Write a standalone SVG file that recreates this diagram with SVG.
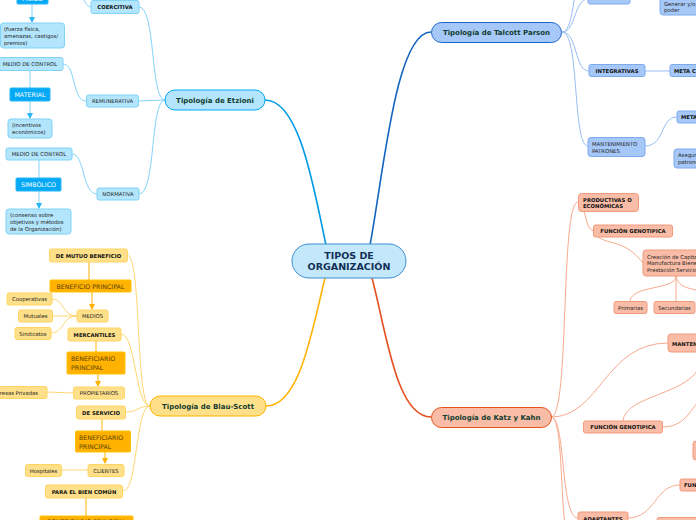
<svg xmlns="http://www.w3.org/2000/svg" width="696" height="520" viewBox="0 0 696 520">
<style>
text{font-family:"DejaVu Sans","Verdana",sans-serif;text-anchor:middle}
.l{font-size:5.3px;fill:#222}
.b{font-size:5.3px;font-weight:bold;fill:#111}
.m{font-size:7px;font-weight:bold;fill:#123c30}
.w{font-size:6.3px;fill:#fff}
.o{font-size:6.3px;fill:#5a3b00}
.ec{fill:#b3e5fc;stroke:#7fd3f7;stroke-width:1}
.eb{fill:#03a9f4;stroke:#29b6f6;stroke-width:1}
.yc{fill:#ffe08a;stroke:#ffd460;stroke-width:1}
.yb{fill:#ffb300;stroke:#ffc107;stroke-width:1}
.pc{fill:#a6c8f8;stroke:#7eaaf0;stroke-width:1}
.kc{fill:#f9bca6;stroke:#f29a7c;stroke-width:1}
.cl{fill:none;stroke-width:1}
.mc{fill:none;stroke-width:1.6}
.ce{stroke:#81d4fa}
.cy{stroke:#ffd770}
.cp{stroke:#97bdf3}
.ck{stroke:#f9a98e}
</style>
<defs>
<marker id="ao" markerWidth="6" markerHeight="6" refX="5" refY="3" orient="auto" viewBox="0 0 6 6"><path d="M0,0 L6,3 L0,6 Z" fill="#ffb300"/></marker>
<marker id="ae" markerWidth="6" markerHeight="6" refX="5" refY="3" orient="auto" viewBox="0 0 6 6"><path d="M0,0 L6,3 L0,6 Z" fill="#29b6f6"/></marker>
</defs>

<g id="connectors">
<path class="mc" stroke="#039be5" d="M326,245 C314,190 300,100 265,100"/>
<path class="mc" stroke="#1565c0" d="M370,245 C384,170 396,32 431,32"/>
<path class="mc" stroke="#ffb300" d="M325,278 C312,330 300,406 266,406"/>
<path class="mc" stroke="#e6501e" d="M372,278 C386,330 396,417 431,417"/>

<path class="cl ce" d="M165,100 C150,100 156,7 139,7"/>
<path class="cl ce" d="M165,100 L138,101"/>
<path class="cl ce" d="M165,100 C150,100 156,194 139,194"/>
<path class="cl ce" d="M92,7 C85,7 85,0 80,-8"/>
<path class="cl ce" d="M63,64 C76,64 72,101 86,101"/>
<path class="cl ce" d="M72,154 C85,154 82,194 97,194"/>
<path class="cl ce" d="M32,4 L32,22" marker-end="url(#ae)"/>
<path class="cl ce" d="M30,70 L30,88"/>
<path class="cl ce" d="M30,101 L30,118" marker-end="url(#ae)"/>
<path class="cl ce" d="M39,160 L39,178"/>
<path class="cl ce" d="M39,191 L39,208" marker-end="url(#ae)"/>

<path class="cl cy" d="M150,406 C135,406 142,255 127,255"/>
<path class="cl cy" d="M150,406 C135,406 136,334 121,334"/>
<path class="cl cy" d="M150,406 C138,406 138,412 126,412"/>
<path class="cl cy" d="M150,406 C135,406 138,491 123,491"/>
<path class="cl" stroke="#ffb300" d="M89,262 L89,280"/>
<path class="cl" stroke="#ffb300" d="M92,292 L92,309" marker-end="url(#ao)"/>
<path class="cl cy" d="M77,316 C62,316 64,299 52,299"/>
<path class="cl cy" d="M77,316 L52,316"/>
<path class="cl cy" d="M77,316 C62,316 64,333 51,333"/>
<path class="cl" stroke="#ffb300" d="M96,341 L96,352"/>
<path class="cl" stroke="#ffb300" d="M98,374 L98,386" marker-end="url(#ao)"/>
<path class="cl cy" d="M47,392 L73,393"/>
<path class="cl" stroke="#ffb300" d="M102,419 L102,431"/>
<path class="cl" stroke="#ffb300" d="M105,452 L105,463" marker-end="url(#ao)"/>
<path class="cl cy" d="M62,470 L88,470"/>
<path class="cl" stroke="#ffb300" d="M86,498 L86,516"/>

<path class="cl cp" d="M562,32 C576,32 574,-1 588,-1"/>
<path class="cl cp" d="M562,32 C576,32 572,-30 586,-30"/>
<path class="cl cp" d="M562,32 C578,32 574,71 589,71"/>
<path class="cl cp" d="M562,32 C580,32 572,146 588,146"/>
<path class="cl cp" stroke-width="1.5" d="M645,71 L670,71"/>
<path class="cl cp" d="M645,146 C665,146 660,117 677,117"/>

<path class="cl ck" d="M551,417 C570,417 560,202 578,202"/>
<path class="cl ck" d="M551,417 C600,417 605,343 668,343"/>
<path class="cl ck" d="M551,417 C566,417 560,518 578,518"/>
<path class="cl ck" d="M551,417 C563,417 560,500 566,530"/>
<path class="cl ck" d="M584,211 C587,222 588,230 594,231"/>
<path class="cl ck" d="M598,237 C610,245 625,240 643,263"/>
<path class="cl ck" d="M676,276 C676,290 632,285 630,301"/>
<path class="cl ck" d="M676,276 L676,301"/>
<path class="cl ck" d="M676,276 C678,290 696,288 700,292"/>
<path class="cl ck" d="M623,421 C625,395 690,395 700,365"/>
<path class="cl ck" d="M662,427 C685,427 690,410 700,400"/>
<path class="cl ck" d="M628,518 C655,518 655,485 680,485"/>
</g>

<g id="center"><rect x="292" y="244" width="114" height="34" rx="17" fill="#c4e8fb" stroke="#3c8fd2" stroke-width="1"/><text x="349" y="259" style="font-size:9.5px;font-weight:bold;fill:#132f55">TIPOS DE</text><text x="349" y="270" style="font-size:9.5px;font-weight:bold;fill:#132f55">ORGANIZACIÓN</text></g>

<g id="etzioni"><rect x="165" y="90" width="100" height="20" rx="10" fill="#b3e5fc" stroke="#03a9f4"/><text class="m" x="215" y="102.5">Tipología de Etzioni</text></g>
<g id="coercitiva"><rect class="ec" x="91" y="0.5" width="48" height="13" rx="2"/><text class="b" x="115" y="9">COERCITIVA</text></g>
<g id="fisico"><rect class="eb" x="17" y="-8" width="31" height="12" rx="1"/><text class="w" x="32.5" y="1">FÍSICO</text></g>
<g id="fuerza"><rect class="ec" x="0.5" y="23" width="64" height="25" rx="3"/><text class="l" x="4" y="31" style="text-anchor:start">(fuerza física,</text><text class="l" x="4" y="38" style="text-anchor:start">amenazas, castigos/</text><text class="l" x="4" y="45" style="text-anchor:start">premios)</text></g>
<g id="medio1"><rect class="ec" x="-2" y="57.5" width="65" height="13" rx="2"/><text class="l" x="30" y="66">MEDIO DE CONTROL</text></g>
<g id="material"><rect class="eb" x="10" y="88" width="40" height="13" rx="1"/><text class="w" x="30" y="97">MATERIAL</text></g>
<g id="incentivos"><rect class="ec" x="8" y="119" width="44" height="19" rx="3"/><text class="l" x="12" y="127" style="text-anchor:start">(incentivos</text><text class="l" x="12" y="134" style="text-anchor:start">económicos)</text></g>
<g id="remunerativa"><rect class="ec" x="86.5" y="95" width="52" height="12" rx="2"/><text class="l" x="112.5" y="103">REMUNERATIVA</text></g>
<g id="medio2"><rect class="ec" x="6" y="148" width="66" height="12" rx="2"/><text class="l" x="39" y="156">MEDIO DE CONTROL</text></g>
<g id="simbolico"><rect class="eb" x="16" y="178" width="45" height="13" rx="1"/><text class="w" x="38.5" y="187">SIMBÓLICO</text></g>
<g id="consenso"><rect class="ec" x="6" y="209" width="65" height="25" rx="3"/><text class="l" x="10" y="217" style="text-anchor:start">(consenso sobre</text><text class="l" x="10" y="224" style="text-anchor:start">objetivos y métodos</text><text class="l" x="10" y="231" style="text-anchor:start">de la Organización)</text></g>
<g id="normativa"><rect class="ec" x="97" y="188" width="42" height="12" rx="2"/><text class="l" x="118" y="196">NORMATIVA</text></g>

<g id="blau"><rect x="150" y="396" width="116" height="20" rx="10" fill="#ffe08a" stroke="#ffb300"/><text class="m" x="208" y="408.5">Tipología de Blau-Scott</text></g>
<g id="mutuo"><rect class="yc" x="49.5" y="249" width="78" height="13" rx="2"/><text class="b" x="88.5" y="257.5">DE MUTUO BENEFICIO</text></g>
<g id="bp1"><rect class="yb" x="50" y="280" width="81" height="12" rx="1"/><text class="o" x="90.5" y="288.5">BENEFICIO PRINCIPAL</text></g>
<g id="medios"><rect class="yc" x="77" y="310" width="31" height="12" rx="2"/><text class="l" x="92.5" y="318">MEDIOS</text></g>
<g id="coop"><rect class="yc" x="7" y="293" width="45" height="12" rx="2"/><text class="l" x="29.5" y="301">Cooperativas</text></g>
<g id="mutuales"><rect class="yc" x="18.5" y="310" width="34" height="12" rx="2"/><text class="l" x="35.5" y="318">Mutuales</text></g>
<g id="sindicatos"><rect class="yc" x="15" y="327.5" width="36" height="12" rx="2"/><text class="l" x="33" y="335.5">Sindicatos</text></g>
<g id="mercantiles"><rect class="yc" x="68" y="328" width="53" height="13" rx="2"/><text class="b" x="94.5" y="336.5">MERCANTILES</text></g>
<g id="bp2"><rect class="yb" x="67" y="352" width="58" height="22" rx="1"/><text class="o" x="71" y="361" style="text-anchor:start">BENEFICIARIO</text><text class="o" x="71" y="370" style="text-anchor:start">PRINCIPAL</text></g>
<g id="propietarios"><rect class="yc" x="73.5" y="387" width="51" height="12" rx="2"/><text class="l" x="99" y="395">PROPIETARIOS</text></g>
<g id="empresas"><rect class="yc" x="-20" y="386.5" width="67" height="12" rx="2"/><text class="l" x="13" y="394.5">Empresas Privadas</text></g>
<g id="servicio"><rect class="yc" x="76.5" y="406" width="49" height="13" rx="2"/><text class="b" x="101" y="414.5">DE SERVICIO</text></g>
<g id="bp3"><rect class="yb" x="75.5" y="431" width="55" height="21" rx="1"/><text class="o" x="79" y="440" style="text-anchor:start">BENEFICIARIO</text><text class="o" x="79" y="449" style="text-anchor:start">PRINCIPAL</text></g>
<g id="clientes"><rect class="yc" x="88" y="464.5" width="36" height="12" rx="2"/><text class="l" x="106" y="472.5">CLIENTES</text></g>
<g id="hospitales"><rect class="yc" x="25.5" y="464.5" width="36" height="12" rx="2"/><text class="l" x="43.5" y="472.5">Hospitales</text></g>
<g id="biencomun"><rect class="yc" x="45.5" y="485" width="77" height="13" rx="2"/><text class="b" x="84" y="493.5">PARA EL BIEN COMÚN</text></g>
<g id="bp4"><rect class="yb" x="40" y="516" width="93" height="14" rx="1"/><text class="o" x="86.5" y="523.5">BENEFICIARIO PRINCIPAL</text></g>

<g id="talcott"><rect x="431.5" y="22.5" width="130" height="20" rx="10" fill="#a6c8f8" stroke="#1e66cc"/><text class="m" x="496.5" y="35">Tipología de Talcott Parson</text></g>
<g id="politicas"><rect class="pc" x="588" y="-8" width="42" height="12" rx="2"/><text class="b" x="609" y="0">POLÍTICAS</text></g>
<g id="generar"><rect class="pc" x="660" y="-6" width="50" height="21" rx="3"/><text class="l" x="664" y="5.5" style="text-anchor:start">Generar y/o</text><text class="l" x="664" y="12" style="text-anchor:start">poder</text></g>
<g id="integrativas"><rect class="pc" x="589" y="64.5" width="56" height="12" rx="2"/><text class="b" x="617" y="72.5">INTEGRATIVAS</text></g>
<g id="metac"><rect class="pc" x="670" y="64.5" width="40" height="12" rx="2"/><text class="b" x="674" y="72.5" style="text-anchor:start">META C</text></g>
<g id="mantpat"><rect class="pc" x="588" y="137.5" width="57" height="19" rx="3"/><text class="l" x="592" y="145.5" style="text-anchor:start">MANTENIMIENTO</text><text class="l" x="592" y="152.5" style="text-anchor:start">PATRONES</text></g>
<g id="meta"><rect class="pc" x="677" y="111" width="30" height="12" rx="2"/><text class="b" x="681" y="119" style="text-anchor:start">META</text></g>
<g id="asegurar"><rect class="pc" x="674" y="149" width="30" height="19" rx="3"/><text class="l" x="678" y="157" style="text-anchor:start">Asegurar</text><text class="l" x="678" y="164" style="text-anchor:start">patrones</text></g>

<g id="katz"><rect x="431.5" y="407.5" width="120" height="20" rx="10" fill="#f9bca6" stroke="#e6501e"/><text class="m" x="491.5" y="420">Tipología de Katz y Kahn</text></g>
<g id="productivas"><rect class="kc" x="578.5" y="193.5" width="60" height="18" rx="3"/><text class="b" x="583" y="201.5" style="text-anchor:start">PRODUCTIVAS O</text><text class="b" x="583" y="208" style="text-anchor:start">ECONÓMICAS</text></g>
<g id="fgen1"><rect class="kc" x="593.5" y="225" width="79" height="12" rx="2"/><text class="b" x="633" y="233">FUNCIÓN GENOTIPICA</text></g>
<g id="creacion"><rect class="kc" x="643" y="250" width="70" height="26" rx="3"/><text class="l" x="647" y="258.5" style="text-anchor:start">Creación de Capital</text><text class="l" x="647" y="265" style="text-anchor:start">Manufactura Bienes</text><text class="l" x="647" y="271.5" style="text-anchor:start">Prestación Servicios</text></g>
<g id="primarias"><rect class="kc" x="614" y="301.5" width="33" height="12" rx="2"/><text class="l" x="630.5" y="309.5">Primarias</text></g>
<g id="secundarias"><rect class="kc" x="654" y="301.5" width="41" height="12" rx="2"/><text class="l" x="674.5" y="309.5">Secundarias</text></g>
<g id="manten"><rect class="kc" x="668" y="334" width="50" height="18" rx="3"/><text class="b" x="672" y="345.5" style="text-anchor:start">MANTENIMIENTO</text></g>
<g id="fgen2"><rect class="kc" x="583.5" y="421" width="79" height="12" rx="2"/><text class="b" x="623" y="429">FUNCIÓN GENOTIPICA</text></g>
<g id="kpart"><rect class="kc" x="693" y="441" width="20" height="19" rx="3"/></g>
<g id="fun"><rect class="kc" x="680" y="479" width="30" height="12" rx="2"/><text class="b" x="684" y="487" style="text-anchor:start">FUNCIÓN</text></g>
<g id="adaptantes"><rect class="kc" x="578" y="512" width="50" height="12" rx="2"/><text class="b" x="603" y="520.5">ADAPTANTES</text></g>
<g id="kpart2"><rect class="kc" x="657" y="517.5" width="50" height="12" rx="2"/></g>
</svg>
